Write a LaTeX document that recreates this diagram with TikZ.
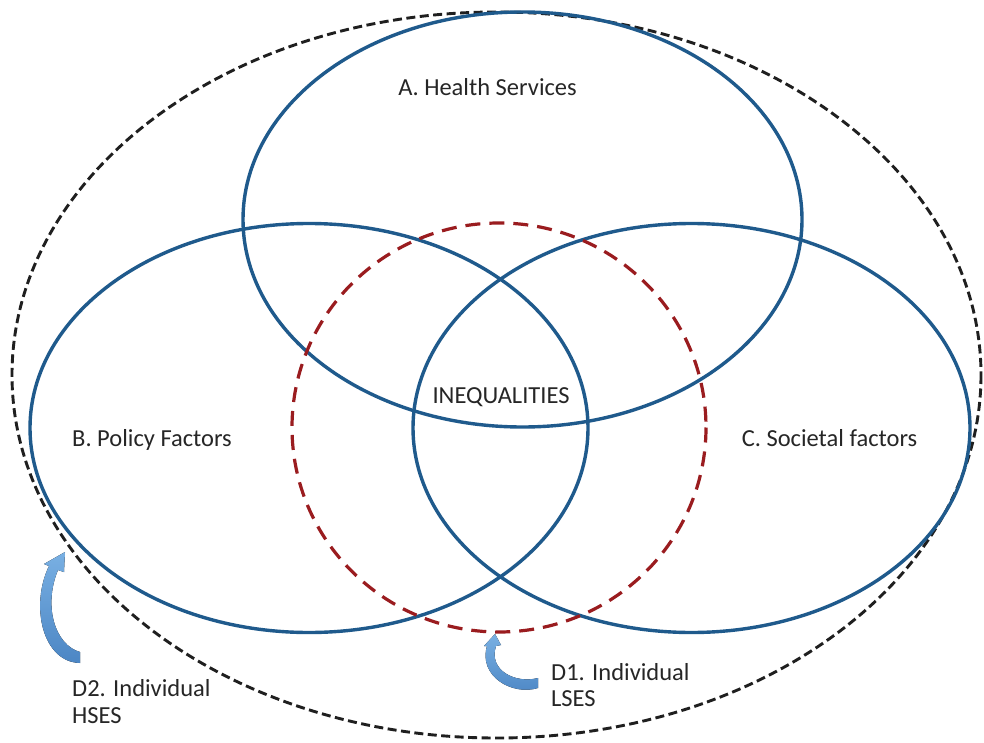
\documentclass[tikz,border=0pt]{standalone}
\usepackage{fontspec}
\setmainfont{Carlito}
\begin{document}
\begin{tikzpicture}[x=1pt,y=-1pt,
  blueell/.style={draw=bluec,line width=3.4pt},
  outerdash/.style={draw=black!88,line width=2.9pt,dash pattern=on 9pt off 4.5pt},
  reddash/.style={draw=redc,line width=3.2pt,dash pattern=on 15pt off 9pt},
  lbl/.style={text=txtc,font=\fontsize{24.5}{29}\selectfont,inner sep=0pt,anchor=base},
  lblw/.style={lbl,anchor=base west},
  fatarrow/.style={top color=arrL,bottom color=arrD,draw=none}]
\definecolor{bluec}{HTML}{1F5A8C}
\definecolor{redc}{HTML}{9A1C1F}
\definecolor{txtc}{HTML}{262626}
\definecolor{arrL}{HTML}{79B0E3}
\definecolor{arrD}{HTML}{4C86C4}
\useasboundingbox (0,0) rectangle (984,743);
\fill[white] (0,0) rectangle (984,743);
% outer dashed ellipse
\draw[outerdash] (496.5,375) ellipse [x radius=484.5, y radius=363];
% blue ellipses
\draw[blueell] (522.5,219.5) ellipse [x radius=279.5, y radius=207.5];
\draw[blueell] (309,428) ellipse [x radius=279, y radius=204.5];
\draw[blueell] (691.5,428) ellipse [x radius=278.5, y radius=204.5];
% red dashed circle
\draw[reddash] (499,427.5) ellipse [x radius=207, y radius=204.5];
% labels
\node[lbl] (A) at (487.5,96) {A. Health Services};
\node[lbl] (B) at (152,446) {B. Policy Factors};
\node[lbl] (C) at (829.5,446) {C. Societal factors};
\node[lbl] (I) at (501,403) {INEQUALITIES};
\node[lblw] (D1a) at (551,680) {D1. Individual};
\node[lblw] (D1b) at (551,706) {LSES};
\node[lblw] (D2a) at (72,696) {D2. Individual};
\node[lblw] (D2b) at (72,723) {HSES};
% curved arrows
\fill[fatarrow] (80,652) .. controls (55,645) and (43,606) .. (58,570)
  -- (64,572) -- (65,552) -- (44,564) -- (49,566)
  .. controls (30,605) and (42,662) .. (80,663) -- cycle;
\fill[fatarrow] (538,678) .. controls (515,684) and (488,670) .. (496,646)
  -- (501,645) -- (495,634) -- (484,646) -- (487,646)
  .. controls (478,676) and (512,696) .. (538,688) -- cycle;
\end{tikzpicture}
\end{document}
